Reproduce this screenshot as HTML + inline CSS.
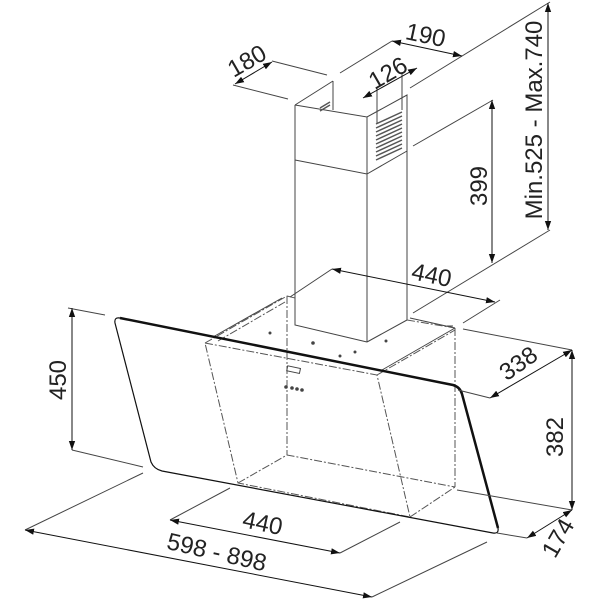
<!DOCTYPE html>
<html><head><meta charset="utf-8"><style>
html,body{margin:0;padding:0;background:#fff;width:600px;height:600px;overflow:hidden;}
svg{display:block}
text{font-family:"Liberation Sans",sans-serif;font-size:24px;fill:#222;}
</style></head><body>
<svg width="600" height="600" viewBox="0 0 600 600" xmlns="http://www.w3.org/2000/svg">
<defs>
<marker id="a" viewBox="0 0 10 10" refX="10" refY="5" markerWidth="9" markerHeight="9" orient="auto-start-reverse" markerUnits="userSpaceOnUse"><path d="M0,1.5 L10,5 L0,8.5 z" fill="#111"/></marker>
</defs>
<g stroke="#444" stroke-width="1" fill="none">
<path d="M295,105 L333,81 M333,81 L333,110 M295,105 L367,117 L407,95 L407,320 M295,105 L295,325 L367,342 M367,117 L367,342 M367,342 L407,320 M295,160 L367,174 L407,151"/>
<g stroke="#555" stroke-width="1.5">
<path d="M376,124 L402,112 M376,128 L402,116 M376,132 L402,120 M376,136 L402,124 M376,140 L402,128 M376,144 L402,132 M376,148 L402,136 M376,152 L402,140 M376,156 L402,144 M376,160 L402,148"/>
<path d="M320,108 L330,102 M320,111 L330,105"/>
</g>
<path d="M213,337 L282,298 M455,328 L382,370 M410,318 L455,328 M447,326 L453,326"/>
<g stroke-dasharray="8,2,2,2" stroke="#555">
<path d="M205,343 L377,375 L410,517 L238,483 Z"/>
<path d="M287,296 L287,455 M287,296 L295,298 M407,320 L455,328 M455,328 L455,487 M238,483 L287,455 L455,487 M410,517 L455,487"/>
<path d="M205,343 L287,296 M377,375 L455,330 M218,341 L285,302"/>
</g>
<path d="M120,318 L453,385 Q460,387 462,394 L498,528 Q499,534 493,533 L162,471 Q154,469 151,462 L115,323 Q114,317 120,318 Z" stroke="#111" stroke-width="1.2"/>
<path d="M120,318 L453,385 Q460,387 462,394 L498,528" stroke="#111" stroke-width="2.5"/>
<rect x="287" y="367" width="13" height="5" transform="rotate(12 293 370)"/>
<circle cx="286" cy="387" r="1.3" fill="#444"/><circle cx="292" cy="388" r="1.3" fill="#444"/><circle cx="297" cy="389" r="1.3" fill="#444"/><circle cx="302" cy="390" r="1.3" fill="#444"/>
<circle cx="313" cy="343" r="1.3" fill="#444"/><circle cx="270" cy="333" r="1" fill="#444"/><circle cx="340" cy="356" r="1" fill="#444"/><circle cx="355" cy="352" r="1" fill="#444"/><circle cx="386" cy="341" r="1" fill="#444"/>
<path d="M272,61 L327,75 M233,85 L288,99"/>
<path d="M340,73 L392,41"/>
<path d="M462,56 L550,2 M410,88 L550,2"/>
<path d="M377,88 L377,123 M402,72 L402,110"/>
<path d="M413,146 L493,100"/>
<path d="M550,230 L413,313"/>
<path d="M332,269 L290,297 M500,300 L463,323"/>
<path d="M68,308 L105,315 M72,450 L143,467"/>
<path d="M463,329 L572,350 M458,390 L490,398"/>
<path d="M457,490 L572,510"/>
<path d="M497,533 L527,538"/>
<path d="M230,488 L170,520 M400,522 L340,553"/>
<path d="M143,473 L25,530 M487,542 L372,597"/>
<g stroke="#111">
<path d="M235,84 L272,62" marker-start="url(#a)" marker-end="url(#a)"/>
<path d="M392,41 L462,56" marker-start="url(#a)" marker-end="url(#a)"/>
<path d="M363,98 L417,68" marker-start="url(#a)" marker-end="url(#a)"/>
<path d="M548,3 L548,230" marker-start="url(#a)" marker-end="url(#a)"/>
<path d="M492,100 L492,263" marker-start="url(#a)" marker-end="url(#a)"/>
<path d="M332,269 L495,302" marker-start="url(#a)" marker-end="url(#a)"/>
<path d="M72,308 L72,450" marker-start="url(#a)" marker-end="url(#a)"/>
<path d="M572,350 L490,398" marker-start="url(#a)" marker-end="url(#a)"/>
<path d="M572,350 L572,510" marker-start="url(#a)" marker-end="url(#a)"/>
<path d="M572,510 L527,538" marker-start="url(#a)" marker-end="url(#a)"/>
<path d="M170,520 L340,553" marker-start="url(#a)" marker-end="url(#a)"/>
<path d="M25,530 L372,597" marker-start="url(#a)" marker-end="url(#a)"/>
</g>
</g>
<text text-anchor="middle" transform="translate(251,68) rotate(-30)">180</text>
<text text-anchor="middle" transform="translate(424,43) rotate(12)">190</text>
<text text-anchor="middle" transform="translate(392,80) rotate(-30)">126</text>
<text text-anchor="middle" transform="translate(542,120) rotate(-90)">Min.525 - Max.740</text>
<text text-anchor="middle" transform="translate(487,186) rotate(-90)">399</text>
<text text-anchor="middle" transform="translate(430,283) rotate(12)">440</text>
<text text-anchor="middle" transform="translate(66,380) rotate(-90)">450</text>
<text text-anchor="middle" transform="translate(523,370) rotate(-35)">338</text>
<text text-anchor="middle" transform="translate(563,437) rotate(-90)">382</text>
<text text-anchor="middle" transform="translate(565,542) rotate(-60)">174</text>
<text text-anchor="middle" transform="translate(261,531) rotate(12)">440</text>
<text text-anchor="middle" transform="translate(215,560) rotate(13)">598 - 898</text>
</svg>
</body></html>
